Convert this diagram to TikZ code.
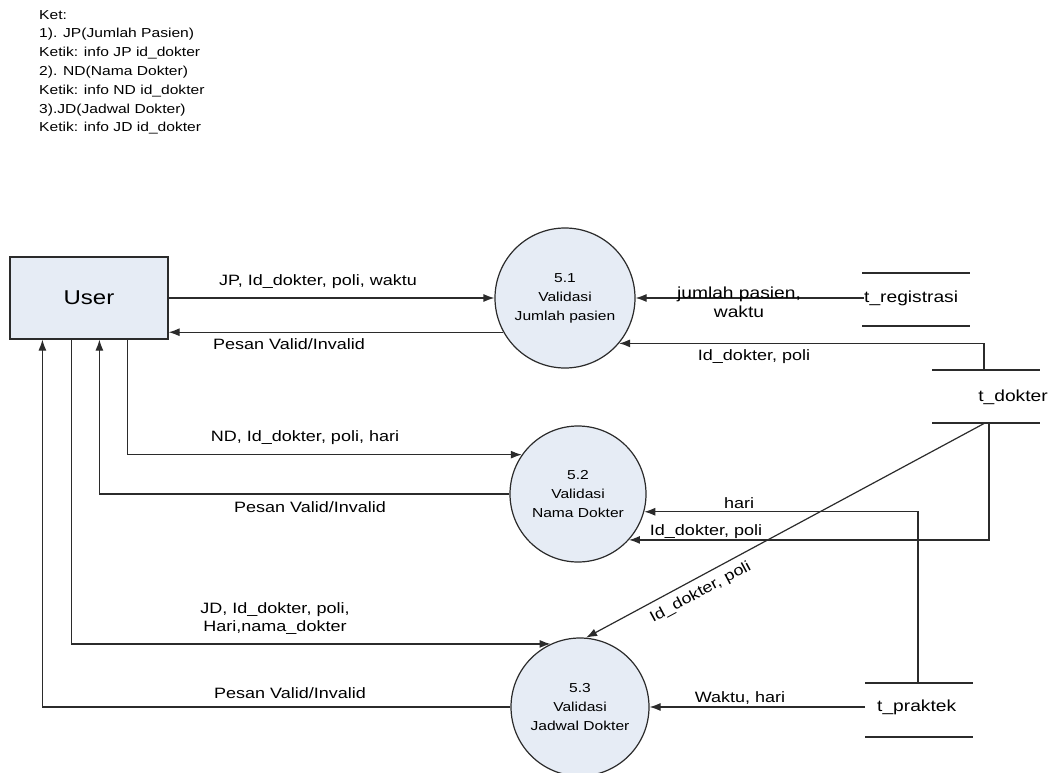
\documentclass[tikz,border=0pt]{standalone}
\usepackage{fontspec}
\setmainfont[FakeStretch=1.2]{Liberation Sans}
\usetikzlibrary{positioning,arrows.meta}
\definecolor{procfill}{HTML}{E6ECF5}
\definecolor{linegray}{HTML}{2B2B2B}
\tikzset{process/.style={circle, draw=linegray, fill=procfill, line width=1.2pt, minimum size=#1, inner sep=0pt, align=center, font=\fontsize{13}{19}\selectfont},
process/.default={138pt}}
\tikzset{entity/.style={rectangle, draw=linegray, fill=procfill, line width=1.2pt, minimum width=158pt, minimum height=82pt, font=\fontsize{20}{24}\selectfont}}
\tikzset{flow/.style={draw=linegray, line width=1.2pt, -{Latex[length=11pt,width=8pt]}}}
\tikzset{lbl/.style={align=center, inner sep=0pt, font=\fontsize{15}{18}\selectfont}}
\tikzset{store/.style={inner sep=0pt, font=\fontsize{16}{19}\selectfont}}
\tikzset{storeline/.style={draw=linegray, line width=1.2pt}}

\begin{document}
\begin{tikzpicture}[x=1pt,y=-1pt]
		\useasboundingbox (0,0) rectangle (1052,773);
		\node[anchor=north west, align=left, inner sep=0pt, font=\fontsize{13}{18.8}\selectfont] (ket) at (39,10)
		{Ket:\\1). JP(Jumlah Pasien)\\Ketik: info JP id\_dokter\\2). ND(Nama Dokter)\\Ketik: info ND id\_dokter\\3).JD(Jadwal Dokter)\\Ketik: info JD id\_dokter};
		% entity and processes
		\node[entity] (user) at (89,298) {User};
		\node[process=140pt] (c1) at (565,298) {5.1\\Validasi\\Jumlah pasien};
		\node[process=136pt] (c2) at (578,494) {5.2\\Validasi\\Nama Dokter};
		\node[process] (c3) at (580,707) {5.3\\Validasi\\Jadwal Dokter};
		% data stores
		\draw[storeline] (862,273) -- (970,273) (862,326) -- (970,326);
		\draw[storeline] (932,370) -- (1040,370) (932,423) -- (1040,423);
		\draw[storeline] (865,683) -- (973,683) (865,737) -- (973,737);
		\node[store, anchor=west] (treg) at (864,298) {t\_registrasi};
		\node[store] (tdok) at (1013,397) {t\_dokter};
		\node[store, anchor=west] (tprak) at (877,707) {t\_praktek};
		\coordinate (tdtop) at (984,370);
		\coordinate (tddiag) at (985,423);
		\coordinate (tdvert) at (989,423);
		\coordinate (tptop) at (918,683);
		% flows 5.1
		\draw[flow] (user.east) -- (c1.west);
		\draw[flow] (c1.209) -- (c1.209 -| user.east);
		\draw[flow] (treg.west) -- (c1.east);
		\draw[flow] (tdtop) |- (c1.-40);
		\node[lbl] (ljp) at (318,282) {JP, Id\_dokter, poli, waktu};
		\node[lbl] (lpv1) at (289,344) {Pesan Valid/Invalid};
		\node[lbl, font=\fontsize{16}{19}\selectfont] (ljml) at (739,302) {jumlah pasien,\\waktu};
		\node[lbl] (lid1) at (754,357) {Id\_dokter, poli};
		% flows 5.2
		\draw[flow] ([xshift=118pt]user.south west) |- (c2.145);
		\draw[flow] (c2.west) -| ([xshift=90pt]user.south west);
		\draw[flow] (tptop) |- (c2.-15);
		\draw[flow] (tdvert) |- (c2.-42);
		\node[lbl] (lnd) at (305,438) {ND, Id\_dokter, poli, hari};
		\node[lbl] (lpv2) at (310,507) {Pesan Valid/Invalid};
		\node[lbl] (lhari) at (739,503) {hari};
		\node[lbl] (lid2) at (706,532) {Id\_dokter, poli};
		% flows 5.3
		\draw[flow] ([xshift=62pt]user.south west) |- (c3.115);
		\draw[flow] (c3.west) -| ([xshift=33pt]user.south west);
		\draw[flow] (tddiag) -- (c3.85) node[lbl, sloped, below=7pt, pos=0.73] {Id\_dokter, poli};
		\draw[flow] ([xshift=-12pt]tprak.west) -- (c3.east);
		\node[lbl] (ljd) at (275,619) {JD, Id\_dokter, poli,\\Hari,nama\_dokter};
		\node[lbl] (lpv3) at (290,693) {Pesan Valid/Invalid};
		\node[lbl] (lwh) at (740,698) {Waktu, hari};
\end{tikzpicture}
\end{document}
